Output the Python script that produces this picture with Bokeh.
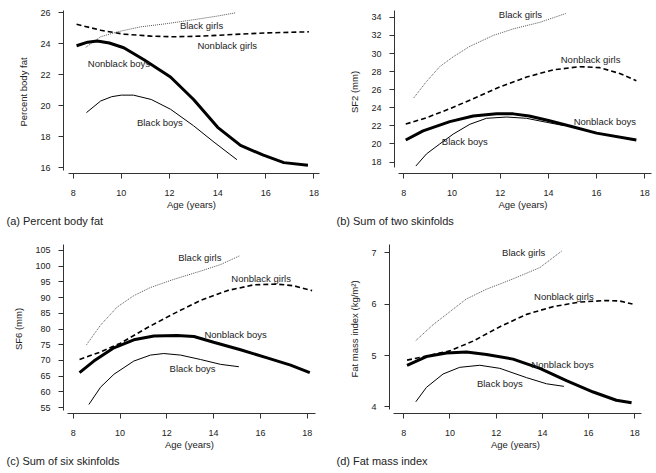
from bokeh.plotting import figure
from bokeh.layouts import column, row
from bokeh.models import Title, FixedTicker, Range1d
from bokeh.core.properties import value
from bokeh.embed import file_html
from bokeh.resources import INLINE

FONT = "Liberation Sans"
TXT = "#222222"

x_ticks = [8, 10, 12, 14, 16, 18]

# ---------------- (a) Percent body fat ----------------
a_nbb_x = [8.14, 8.6, 9.0, 9.5, 10.1, 10.94, 12.04, 13.0, 14.0, 14.95, 15.9, 16.75, 17.75]
a_nbb_y = [23.87, 24.1, 24.17, 24.05, 23.74, 22.96, 21.85, 20.4, 18.6, 17.43, 16.8, 16.32, 16.15]
a_bb_x = [8.55, 9.14, 9.6, 10.0, 10.5, 11.24, 12.04, 13.0, 13.85, 14.8]
a_bb_y = [19.55, 20.3, 20.58, 20.68, 20.68, 20.4, 19.77, 18.7, 17.64, 16.51]
a_bg_x = [8.52, 9.14, 9.84, 10.8, 11.9, 13.0, 14.0, 14.75]
a_bg_y = [23.77, 24.45, 24.77, 25.09, 25.3, 25.55, 25.79, 26.0]
a_ng_x = [8.14, 9.14, 10.1, 11.24, 12.18, 13.3, 14.68, 16.06, 17.79]
a_ng_y = [25.26, 24.87, 24.62, 24.49, 24.45, 24.49, 24.6, 24.7, 24.77]
a_y_ticks = [16, 18, 20, 22, 24, 26]

# ---------------- (b) Sum of two skinfolds ----------------
b_nbb_x = [8.08, 8.8, 9.91, 10.88, 11.85, 12.54, 13.2, 14.0, 15.0, 16.0, 17.65]
b_nbb_y = [20.44, 21.45, 22.47, 23.09, 23.35, 23.33, 23.1, 22.6, 21.9, 21.2, 20.44]
b_bb_x = [8.5, 8.94, 9.49, 10.05, 10.74, 11.43, 12.26, 13.09, 13.92, 14.61]
b_bb_y = [17.56, 18.9, 20.0, 21.09, 22.18, 22.84, 22.98, 22.84, 22.4, 22.05]
b_bg_x = [8.41, 8.94, 9.49, 10.05, 10.74, 11.71, 12.54, 13.64, 14.72]
b_bg_y = [25.09, 26.9, 28.55, 29.64, 30.8, 32.0, 32.73, 33.45, 34.43]
b_ng_x = [8.08, 8.94, 9.91, 10.88, 11.98, 13.09, 14.2, 15.3, 16.13, 16.96, 17.65]
b_ng_y = [22.2, 22.9, 23.9, 25.0, 26.3, 27.4, 28.2, 28.55, 28.44, 27.8, 27.0]
b_y_ticks = [18, 20, 22, 24, 26, 28, 30, 32, 34]

# ---------------- (c) Sum of six skinfolds ----------------
c_nbb_x = [8.27, 8.88, 9.74, 10.59, 11.45, 12.44, 13.16, 14.0, 15.15, 16.29, 17.29, 18.11]
c_nbb_y = [66.15, 69.8, 74.0, 76.56, 77.8, 77.9, 77.6, 75.8, 73.4, 70.8, 68.5, 66.15]
c_bb_x = [8.67, 9.17, 9.74, 10.59, 11.3, 11.87, 12.59, 13.44, 14.3, 15.08]
c_bb_y = [56.0, 61.5, 65.6, 69.8, 71.7, 72.2, 71.7, 70.3, 68.75, 68.0]
c_bg_x = [8.57, 9.17, 9.88, 10.59, 11.3, 12.3, 13.44, 14.3, 15.12]
c_bg_y = [75.0, 81.25, 87.0, 90.6, 93.2, 95.8, 98.4, 100.5, 103.3]
c_ng_x = [8.27, 9.17, 10.02, 11.16, 12.3, 13.44, 14.58, 15.72, 16.72, 17.43, 18.21]
c_ng_y = [70.3, 72.7, 75.5, 80.4, 84.9, 89.06, 92.2, 94.06, 94.27, 93.75, 92.2]
c_y_ticks = [55, 60, 65, 70, 75, 80, 85, 90, 95, 100, 105]

# ---------------- (d) Fat mass index ----------------
d_nbb_x = [8.14, 8.98, 9.85, 10.71, 11.58, 12.73, 13.89, 15.04, 16.2, 17.2, 17.86]
d_nbb_y = [4.81, 4.98, 5.05, 5.07, 5.02, 4.93, 4.75, 4.51, 4.29, 4.13, 4.08]
d_bb_x = [8.52, 8.98, 9.7, 10.42, 11.29, 12.16, 13.31, 14.18, 14.93]
d_bb_y = [4.1, 4.38, 4.64, 4.77, 4.81, 4.75, 4.57, 4.45, 4.4]
d_bg_x = [8.52, 9.27, 9.99, 10.71, 11.58, 12.73, 13.89, 14.83]
d_bg_y = [5.29, 5.6, 5.85, 6.1, 6.29, 6.49, 6.71, 7.03]
d_ng_x = [8.14, 8.98, 9.99, 11.0, 12.16, 13.31, 14.46, 15.61, 16.77, 17.35, 17.9]
d_ng_y = [4.91, 4.99, 5.09, 5.28, 5.56, 5.8, 5.95, 6.04, 6.07, 6.06, 6.0]
d_y_ticks = [4, 5, 6, 7]

label_names = ["Black girls", "Nonblack girls", "Nonblack boys", "Black boys"]
a_lab_x = [13.33, 14.4, 9.9, 11.6]
a_lab_y = [25.19, 23.91, 22.74, 18.91]
b_lab_x = [12.84, 15.75, 16.34, 10.53]
b_lab_y = [34.36, 29.35, 22.44, 20.29]
c_lab_x = [13.41, 16.03, 14.94, 13.1]
c_lab_y = [102.6, 96.1, 78.4, 67.4]
d_lab_x = [13.19, 14.93, 14.87, 12.16]
d_lab_y = [7.0, 6.14, 4.83, 4.46]


def make_panel(width, height, borders, xr, yr, xb, yb, yticks, ylabel, caption, cap_offset,
               series, lab_x, lab_y):
    left, right, top, bottom = borders
    p = figure(width=width, height=height, output_backend="svg", toolbar_location=None,
               x_range=Range1d(*xr), y_range=Range1d(*yr),
               min_border_left=left, min_border_right=right,
               min_border_top=top, min_border_bottom=bottom)
    p.outline_line_color = None
    p.grid.visible = False
    p.background_fill_color = "white"
    p.border_fill_color = "white"

    for ax, ticks, bnd in ((p.xaxis[0], x_ticks, xb), (p.yaxis[0], yticks, yb)):
        ax.ticker = FixedTicker(ticks=ticks)
        ax.bounds = bnd
        ax.axis_line_color = "#333333"
        ax.axis_line_width = 1
        ax.major_tick_line_color = "#333333"
        ax.major_tick_out = 5
        ax.major_tick_in = 0
        ax.minor_tick_line_color = None
        ax.major_label_text_font = FONT
        ax.major_label_text_font_size = "9px"
        ax.major_label_text_color = TXT
        ax.axis_label_text_font = FONT
        ax.axis_label_text_font_size = "9.5px"
        ax.axis_label_text_font_style = "normal"
        ax.axis_label_text_color = TXT
    p.xaxis[0].axis_label = "Age (years)"
    p.xaxis[0].major_label_standoff = 11
    p.xaxis[0].axis_label_standoff = 0
    p.yaxis[0].axis_label = ylabel
    p.yaxis[0].major_label_standoff = 8
    p.yaxis[0].axis_label_standoff = 8

    (nbb_x, nbb_y), (bb_x, bb_y), (bg_x, bg_y), (ng_x, ng_y) = series
    p.line(ng_x, ng_y, line_color="black", line_width=1.6, line_dash="5 3")
    p.line(bg_x, bg_y, line_color="#555555", line_width=1, line_dash="1 1")
    p.line(bb_x, bb_y, line_color="black", line_width=1)
    p.line(nbb_x, nbb_y, line_color="black", line_width=3)

    p.text(x=lab_x, y=lab_y, text=label_names, text_align="center", text_baseline="middle",
           text_font=value(FONT), text_font_size="9.5px", text_color=TXT)

    t = Title(text=caption, align="left", offset=cap_offset, text_font=FONT,
              text_font_size="11px", text_font_style="normal", text_color=TXT, standoff=1)
    p.add_layout(t, "below")
    return p


pa = make_panel(326, 236, (63, 7, 10, 61), (7.597, 18.23), (15.617, 26.147), (7.805, 18.23),
                (15.81, 26.147), a_y_ticks, "Percent body fat", "(a) Percent body fat", -57,
                [(a_nbb_x, a_nbb_y), (a_bb_x, a_bb_y), (a_bg_x, a_bg_y), (a_ng_x, a_ng_y)],
                a_lab_x, a_lab_y)
pb = make_panel(329, 236, (68, 4, 8, 63), (7.614, 18.278), (16.735, 34.763), (7.77, 18.278),
                (17.45, 34.763), b_y_ticks, "SF2 (mm)", "(b) Sum of two skinfolds", -58,
                [(b_nbb_x, b_nbb_y), (b_bb_x, b_bb_y), (b_bg_x, b_bg_y), (b_ng_x, b_ng_y)],
                b_lab_x, b_lab_y)
pc = make_panel(326, 236, (63, 11, 8, 56), (7.585, 18.355), (53.125, 106.875), (7.756, 18.355),
                (54.06, 106.875), c_y_ticks, "SF6 (mm)", "(c) Sum of six skinfolds", -57,
                [(c_nbb_x, c_nbb_y), (c_bb_x, c_bb_y), (c_bg_x, c_bg_y), (c_ng_x, c_ng_y)],
                c_lab_x, c_lab_y)
pd = make_panel(329, 236, (63, 14, 5, 59), (7.381, 18.29), (3.872, 7.159), (7.554, 18.29),
                (3.943, 7.159), d_y_ticks, "Fat mass index (kg/m\u00b2)", "(d) Fat mass index", -53,
                [(d_nbb_x, d_nbb_y), (d_bb_x, d_bb_y), (d_bg_x, d_bg_y), (d_ng_x, d_ng_y)],
                d_lab_x, d_lab_y)

layout = column(row(pa, pb, spacing=0), row(pc, pd, spacing=0), spacing=0)
open("out.html", "w").write(file_html(layout, INLINE))
